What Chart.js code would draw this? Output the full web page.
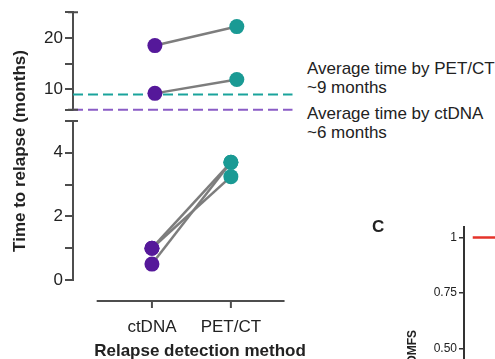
<!DOCTYPE html>
<html>
<head>
<meta charset="utf-8">
<script src="https://cdn.jsdelivr.net/npm/chart.js@4.4.1/dist/chart.umd.min.js"></script>
<style>
  html, body { margin: 0; padding: 0; background: #fff; overflow: hidden; }
  #wrap { position: relative; width: 495px; height: 359px; overflow: hidden;
          font-family: "Liberation Sans", Arial, sans-serif; color: #222; }
  canvas { position: absolute; }
  .txt { position: absolute; white-space: nowrap; line-height: 20px; }
</style>
</head>
<body>
<div id="wrap">
  <canvas id="top" width="300" height="122" style="left:0;top:0"></canvas>
  <canvas id="bottom" width="300" height="258" style="left:0;top:108px"></canvas>
  <canvas id="dmfs" width="160" height="177" style="left:340px;top:200px"></canvas>

  <div class="txt" style="left:-110px;top:141px;width:260px;text-align:center;font-weight:bold;font-size:17px;transform:rotate(-90deg)">Time to relapse (months)</div>
  <div class="txt" style="left:0;top:341px;width:400px;text-align:center;font-weight:bold;font-size:17px">Relapse detection method</div>

  <div class="txt" style="left:307px;top:59px;font-size:17px">Average time by PET/CT</div>
  <div class="txt" style="left:307px;top:78px;font-size:17px">~9 months</div>
  <div class="txt" style="left:307px;top:104px;font-size:17px">Average time by ctDNA</div>
  <div class="txt" style="left:307px;top:123px;font-size:17px">~6 months</div>

  <div class="txt" style="left:372px;top:217px;font-weight:bold;font-size:17px">C</div>
  <div class="txt" style="left:392px;top:340px;width:40px;line-height:14px;text-align:center;font-weight:bold;font-size:12px;transform:rotate(-90deg)">DMFS</div>
</div>

<script>
// categories
const methods = ["ctDNA", "PET/CT"];

// patients with long time to relapse (upper part of the broken axis)
const ctdnaHigh = [18.5, 9.2];
const petHigh = [22.2, 11.9];

// patients with short time to relapse (lower part)
const ctdnaLow = [1.0, 1.0, 0.5];
const petLow = [3.7, 3.25, 3.7];

// average times
const avgPet = 9;
const avgCtdna = 6;

// tick values
const topTicks = [6, 10, 15, 20, 25];
const topLabels = [10, 20];
const bottomTicks = [0, 1, 2, 3, 4, 5];
const bottomLabels = [0, 2, 4];

// panel C (cut off on the right)
const dmfsTicks = [0.5, 0.75, 1];
const dmfsTickLabels = ["0.50", "0.75", "1"];
const dmfsTime = [0, 3];
const dmfsSurv = [1, 1];

const purple = "#55189a";
const teal = "#1a9a94";
const axisColor = "#4d4d4d";
const xMax = 2.68;

Chart.defaults.font.family = '"Liberation Sans", Arial, sans-serif';
Chart.defaults.color = "#222";

function patientSets(a, b) {
  return a.map((v, i) => ({
    data: [{ x: 1, y: v }, { x: 2, y: b[i] }],
    borderColor: "#7d7d7d",
    borderWidth: 2.5,
    pointRadius: 7.5,
    pointBorderWidth: 0,
    pointBackgroundColor: [purple, teal],
    order: 1
  }));
}

function avgLine(v, color) {
  return {
    data: [{ x: 0, y: v }, { x: xMax, y: v }],
    borderColor: color,
    borderWidth: 2,
    borderDash: [10, 5],
    pointRadius: 0,
    clip: false,
    order: 2
  };
}

function yAxis(min, max, ticks, labels) {
  return {
    type: "linear",
    min: min,
    max: max,
    afterFit: s => { s.width = 73; },
    afterBuildTicks: s => { s.ticks = ticks.map(v => ({ value: v })); },
    grid: { drawOnChartArea: false, drawTicks: true, tickLength: 8, color: axisColor, lineWidth: 2 },
    border: { display: true, color: axisColor, width: 2 },
    ticks: {
      padding: 2,
      font: { size: 17 },
      callback: v => (labels.includes(v) ? String(v) : "")
    }
  };
}

// small T caps where the broken axis ends
function axisCaps(values) {
  return {
    id: "axisCaps",
    afterDraw(chart) {
      const { ctx, scales } = chart;
      const y = scales.y;
      ctx.save();
      ctx.strokeStyle = axisColor;
      ctx.lineWidth = 2;
      ctx.beginPath();
      values.forEach(v => {
        const py = y.getPixelForValue(v);
        ctx.moveTo(y.right - 5, py);
        ctx.lineTo(y.right + 5, py);
      });
      ctx.stroke();
      ctx.restore();
    }
  };
}

const baseOpts = {
  responsive: false,
  animation: false,
  devicePixelRatio: 1,
  plugins: { legend: { display: false }, tooltip: { enabled: false } }
};

// upper part
new Chart(document.getElementById("top"), {
  type: "line",
  data: {
    datasets: [
      ...patientSets(ctdnaHigh, petHigh),
      avgLine(avgPet, "#1aa39c"),
      avgLine(avgCtdna, "#8a5cc6")
    ]
  },
  options: {
    ...baseOpts,
    layout: { padding: { top: 10, right: 7, bottom: 8, left: 0 } },
    scales: {
      x: { type: "linear", min: 0, max: xMax, display: false },
      y: yAxis(6, 25, topTicks, topLabels)
    }
  },
  plugins: [axisCaps([6, 25])]
});

// x axis line drawn a bit below the plot, like the original figure
const xAxisLine = {
  id: "xAxisLine",
  afterDraw(chart) {
    const { ctx, chartArea, scales } = chart;
    const x = scales.x;
    const y = chartArea.bottom + 21;
    ctx.save();
    ctx.strokeStyle = axisColor;
    ctx.lineWidth = 2;
    ctx.beginPath();
    ctx.moveTo(x.getPixelForValue(0.3), y);
    ctx.lineTo(chartArea.right, y);
    methods.forEach((m, i) => {
      const px = x.getPixelForValue(i + 1);
      ctx.moveTo(px, y);
      ctx.lineTo(px, y + 7);
    });
    ctx.stroke();
    ctx.restore();
  }
};

// lower part
new Chart(document.getElementById("bottom"), {
  type: "line",
  data: { datasets: patientSets(ctdnaLow, petLow) },
  options: {
    ...baseOpts,
    layout: { padding: { top: 13, right: 7, bottom: 0, left: 0 } },
    scales: {
      x: {
        type: "linear",
        min: 0,
        max: xMax,
        afterFit: s => { s.height = 86; },
        afterBuildTicks: s => { s.ticks = methods.map((m, i) => ({ value: i + 1 })); },
        grid: { display: false, drawTicks: false },
        border: { display: false },
        ticks: {
          padding: 37,
          font: { size: 17 },
          maxRotation: 0,
          callback: v => methods[v - 1] || ""
        }
      },
      y: yAxis(0, 5, bottomTicks, bottomLabels)
    }
  },
  plugins: [xAxisLine, axisCaps([5])]
});

// panel C fragment
new Chart(document.getElementById("dmfs"), {
  type: "line",
  data: {
    datasets: [{
      data: dmfsTime.map((t, i) => ({ x: t, y: dmfsSurv[i] })),
      borderColor: "#e5332a",
      borderWidth: 2.5,
      pointRadius: 0
    }]
  },
  options: {
    ...baseOpts,
    layout: { padding: { top: 27, right: 0, bottom: 0, left: 0 } },
    scales: {
      x: { type: "linear", min: -0.8, max: 2.5, display: false },
      y: {
        type: "linear",
        min: 0.415,
        max: 1.047,
        afterFit: s => { s.width = 124; },
        afterBuildTicks: s => { s.ticks = dmfsTicks.map(v => ({ value: v })); },
        grid: { drawOnChartArea: false, tickLength: 5, color: "#333", lineWidth: 1.5 },
        border: { display: true, color: "#333", width: 2 },
        ticks: {
          padding: 2,
          font: { size: 12 },
          callback: v => dmfsTickLabels[dmfsTicks.indexOf(v)]
        }
      }
    }
  }
});
</script>
</body>
</html>
